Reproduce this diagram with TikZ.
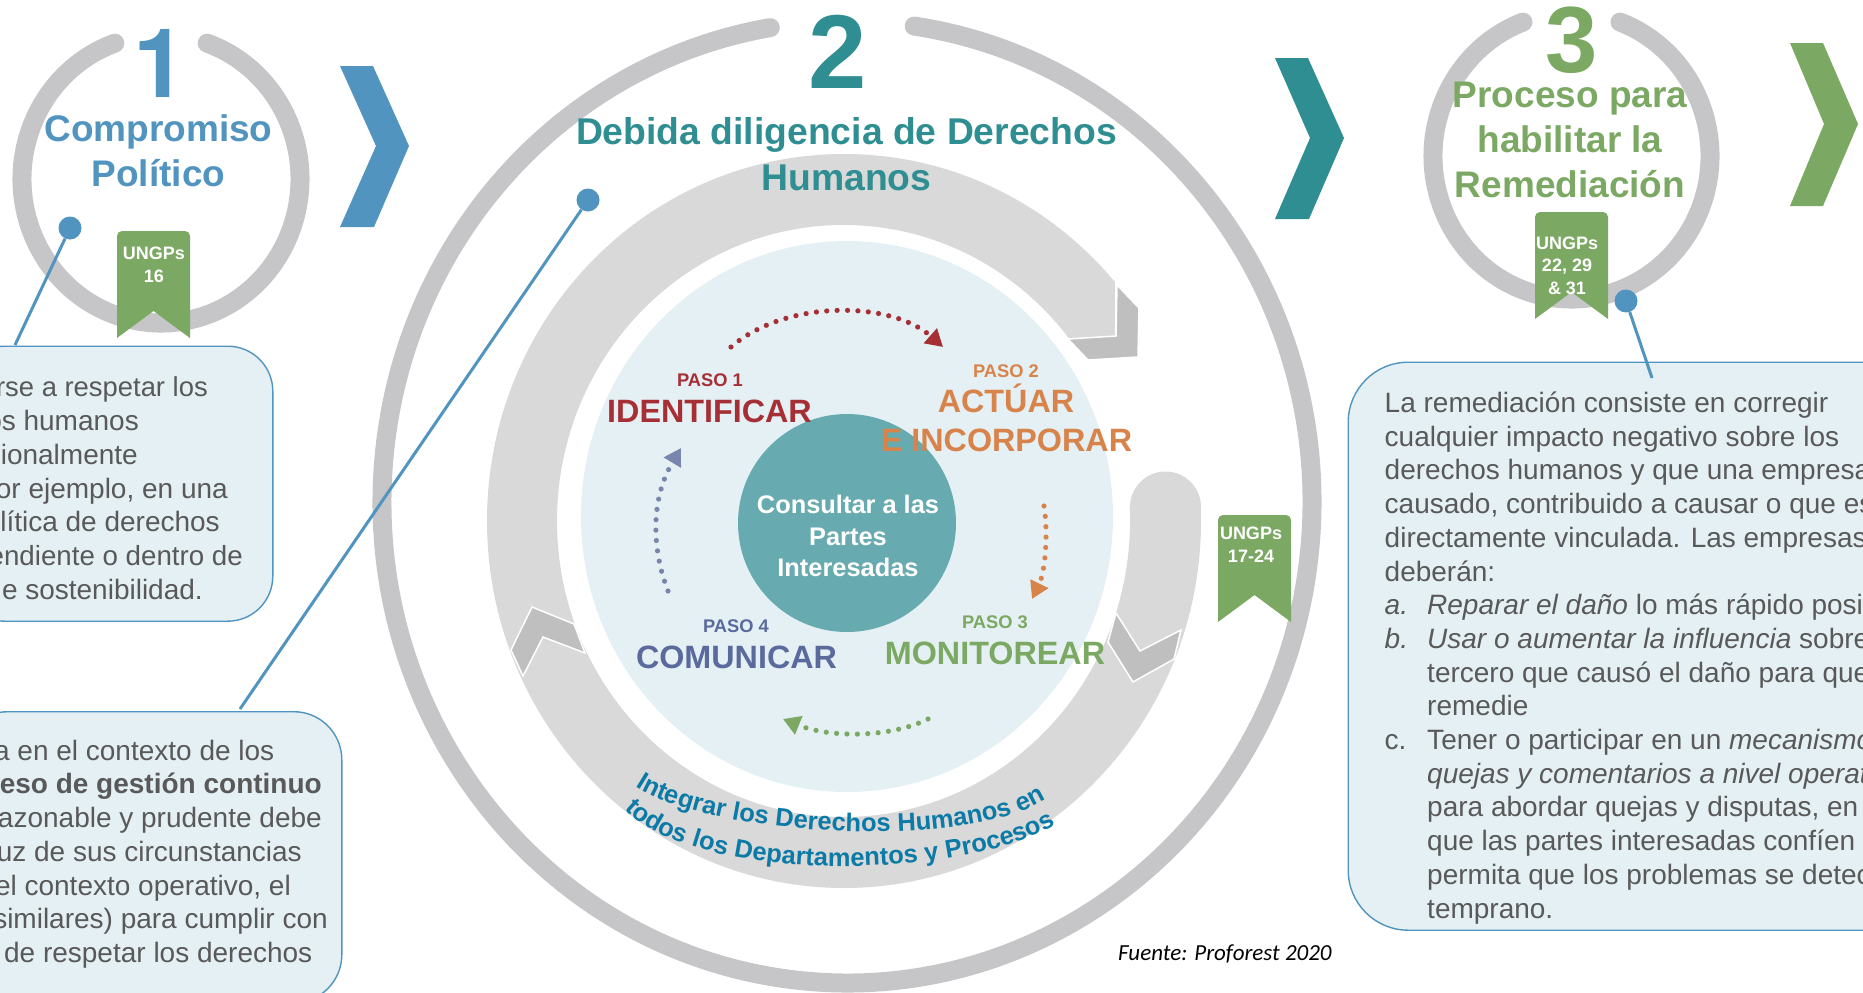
\documentclass[tikz,border=0pt]{standalone}
\usepackage{xcolor}
\usepackage{fontspec}
\setmainfont{Liberation Sans}
\newfontfamily\fuentefont{Carlito}
\newfontfamily\herosfont{TeX Gyre Heros}
\usetikzlibrary{arrows.meta,decorations.text,positioning}
\definecolor{azulP}{HTML}{5094BF}
\definecolor{tealP}{HTML}{2F8E92}
\definecolor{verdeP}{HTML}{7BA862}
\definecolor{anilloG}{HTML}{C6C6C8}
\definecolor{bandaG}{HTML}{D9D9D9}
\definecolor{puntaG}{HTML}{BFBFBF}
\definecolor{paleP}{HTML}{E4F0F3}
\definecolor{centroP}{HTML}{67ABB0}
\definecolor{rojoP}{HTML}{A52F35}
\definecolor{naranjaP}{HTML}{D8834A}
\definecolor{moradoP}{HTML}{5B6A9D}
\definecolor{flechaM}{HTML}{7886AE}
\definecolor{textoG}{HTML}{595959}
\definecolor{curvaP}{HTML}{0C7AA6}
\newcommand{\fs}[2]{\fontsize{#1}{#2}\selectfont}
\newcommand{\cinta}[1]{\fill[verdeP,shift={(#1)}] (0,-107) [rounded corners=5pt] -- (0,0) -- (73,0) [sharp corners] -- (73,-107) -- (36.5,-80) -- cycle;}
\tikzset{
  anillo/.style={anilloG,line width=19pt,line cap=round},
  punta/.style={fill=puntaG,draw=white,line width=1.5pt,line join=miter},
  numero/.style={font=\bfseries\fs{94}{94},inner sep=0pt,anchor=base},
  titulo/.style={font=\bfseries\fs{37}{45},inner sep=0pt,align=center,anchor=base},
  cintatxt/.style={font=\bfseries\fs{18}{22.2},text=white,inner sep=0pt,align=center,anchor=base},
  pasosm/.style={font=\bfseries\fs{18.3}{22},inner sep=0pt,anchor=base},
  pasobig/.style={font=\bfseries\fs{32.3}{39},inner sep=0pt,align=center,anchor=base},
  caja/.style={fill=paleP,draw=azulP,line width=1.4pt,inner sep=0pt},
  linea/.style={font=\fs{28}{33.7},text=textoG,inner sep=0pt,anchor=base east},
  punto/.style={circle,fill=azulP,inner sep=0pt,minimum size=23pt},
  enlace/.style={draw=azulP,line width=3pt},
  dots/.style={line width=5.2pt,line cap=round,dash pattern=on 0pt off 10.4pt,-{Triangle[length=17pt,width=19pt,line cap=butt]}},
}
\begin{document}
\begin{tikzpicture}[x=1pt,y=1pt]
\useasboundingbox (0,0) rectangle (1863,-993);
\clip (0,0) rectangle (1863,-993);
% rings
\draw[anillo] ([shift={(70.6:139 and 144)}]161,-179) arc[start angle=70.6,end angle=-250.6,x radius=139,y radius=144];
\draw[anillo] ([shift={(81.7:465 and 481)}]847,-502) arc[start angle=81.7,end angle=-260.5,x radius=465,y radius=481];
\draw[anillo] ([shift={(69.5:138.5 and 143)}]1571.5,-156) arc[start angle=69.5,end angle=-249.5,x radius=138.5,y radius=143];
% chevrons
\fill[azulP] (340,-66) -- (373,-66) -- (409,-146) -- (374,-227) -- (340,-227) -- (376,-146) -- cycle;
\fill[tealP] (1275,-58) -- (1308,-58) -- (1344,-138) -- (1309,-219) -- (1275,-219) -- (1310,-138) -- cycle;
\fill[verdeP] (1790,-43) -- (1823,-43) -- (1858,-124) -- (1823,-206) -- (1790,-206) -- (1824,-124) -- cycle;
% band
\fill[bandaG,even odd rule] (844,-521) ellipse [x radius=357,y radius=367] (843.5,-521) ellipse [x radius=286.5,y radius=296];
\fill[white] (1068,-339) -- (1115,-336) -- (1115,-270) -- (1180,-270) -- (1215,-400) -- (1215,-507) -- (1130,-507) -- cycle;
\fill[bandaG] (1165.5,-507) circle (35.5);
\filldraw[punta] (1117,-285) -- (1139,-308) -- (1138,-357) -- (1088,-360) -- (1068,-339) -- (1116,-336) -- cycle;
\filldraw[punta] (1116,-613) -- (1140,-651) -- (1181,-630) -- (1174,-659) -- (1133,-682) -- (1108,-642) -- cycle;
\filldraw[punta] (532,-607) -- (574,-624) -- (585,-653) -- (543,-637) -- (523,-676) -- (511,-650) -- cycle;
\fill[paleP] (847,-516.5) ellipse [x radius=266,y radius=275.5];
\node[circle,fill=centroP,inner sep=0pt,minimum size=218pt] (centro) at (847,-523) {};
\node[font=\bfseries\fs{25.4}{31.5},text=white,inner sep=0pt,align=center] (consulta) at (848,-536) {Consultar a las\\Partes\\Interesadas};
% dotted arrows
\coordinate (rojoA) at (731,-347); \coordinate (rojoB) at (943,-347);
\coordinate (naraA) at (1044,-506); \coordinate (naraB) at (1032,-599);
\coordinate (verdA) at (928,-719); \coordinate (verdB) at (783,-719);
\coordinate (azulA) at (668,-591); \coordinate (azulB) at (681,-448);
\draw[dots,rojoP] (rojoA) .. controls (785,-300) and (890,-300) .. (rojoB);
\draw[dots,naranjaP] (naraA) .. controls (1048,-530) and (1046,-570) .. (naraB);
\draw[dots,verdeP] (verdA) .. controls (890,-738) and (830,-738) .. (verdB);
\draw[dots,flechaM] (azulA) .. controls (652,-550) and (650,-500) .. (azulB);
% steps
\node[pasosm,text=rojoP] (paso1) at (710,-386) {PASO 1};
\node[pasobig,text=rojoP] (identificar) at (709.5,-422) {IDENTIFICAR};
\node[pasosm,text=naranjaP] (paso2) at (1006,-377) {PASO 2};
\node[pasobig,text=naranjaP] (actuar) at (1006,-412) {ACTÚAR};
\node[pasobig,text=naranjaP] (incorporar) at (1006.5,-451) {E INCORPORAR};
\node[pasosm,text=verdeP] (paso3) at (995,-628) {PASO 3};
\node[pasobig,text=verdeP] (monitorear) at (995,-664) {MONITOREAR};
\node[pasosm,text=moradoP] (paso4) at (736,-632) {PASO 4};
\node[pasobig,text=moradoP] (comunicar) at (736.5,-668) {COMUNICAR};
% curved text
\path[decorate,decoration={text along path,text align=center,text color=curvaP,text={|\bfseries\fs{25.5}{30}|Integrar los Derechos Humanos en}}] (636,-787) .. controls (710,-835) and (960,-852) .. (1045,-800);
\path[decorate,decoration={text along path,text align=center,text color=curvaP,text={|\bfseries\fs{25.5}{30}|todos los Departamentos y Procesos}}] (624,-809) .. controls (700,-885) and (960,-880) .. (1056,-825);
% headings
\node[numero,font=\herosfont\bfseries\fs{96}{96},text=azulP] (num1) at (160,-97) {1};
\node[titulo,text=azulP] (tit1) at (158.5,-186) {Compromiso\\Político};
\node[numero,font=\bfseries\fs{105}{105},text=tealP] (num2) at (838,-88) {2};
\node[titulo,font=\bfseries\fs{37.3}{46},text=tealP] (tit2) at (846.5,-190) {Debida diligencia de Derechos\\Humanos};
\node[numero,text=verdeP] (num3) at (1572,-72) {3};
\node[titulo,text=verdeP] (tit3) at (1570,-197) {Proceso para\\habilitar la\\Remediación};
% ribbons
\cinta{117,-231}
\cinta{1535,-212}
\cinta{1218,-515}
\node[cintatxt] (cintaA) at (154,-282) {UNGPs\\16};
\node[cintatxt] (cintaC) at (1567,-294) {UNGPs\\22, 29\\\& 31};
\node[cintatxt] (cintaB) at (1251,-562) {UNGPs\\17-24};
% callouts
\node[caja,rounded corners=45pt,minimum width=313pt,minimum height=275pt,anchor=north east] (cajaA) at (273.5,-345.5) {};
\node[caja,rounded corners=48pt,minimum width=382pt,minimum height=291pt,anchor=north east] (cajaB) at (342.5,-711) {};
\node[caja,rounded corners=60pt,minimum width=600pt,minimum height=568pt,anchor=north west] (cajaC) at (1347.5,-361.5) {};
\node[punto] (puntoA) at (70,-228) {};
\node[punto] (puntoB) at (588,-200) {};
\node[punto] (puntoC) at (1626,-301) {};
\coordinate (finA) at (15,-345);
\coordinate (finB) at (240,-709);
\coordinate (finC) at (1652,-378);
\draw[enlace] (puntoA) -- (finA);
\draw[enlace] (puntoB) -- (finB);
\draw[enlace] (puntoC) -- (finC);
% text of the boxes
\foreach \y/\x/\sz/\txt [count=\i] in {396.5/208/27.4/rse a respetar los,430.5/139/28/os humanos,464/138/28/cionalmente,498/228/28/{or ejemplo, en una},531.5/220/28/lítica de derechos,565.5/243/27.7/endiente o dentro de,599/203/28/e sostenibilidad.}
  \node[linea,font=\fs{\sz}{33.7}] (lineaA\i) at (\x,-\y) {\txt};
\foreach \y/\x/\txt [count=\i] in {760.5/274.5/a en el contexto de los,793.5/322/\textbf{eso de gestión continuo},827.5/322/azonable y prudente debe,861.5/302/uz de sus circunstancias,895.5/291/{el contexto operativo, el},928.5/328/similares) para cumplir con,962.5/312.5/de respetar los derechos}
  \node[linea] (lineaB\i) at (\x,-\y) {\txt};
\node[linea,anchor=base west,align=left] (textoC) at (1384.5,-918) {La remediación consiste en corregir\\
cualquier impacto negativo sobre los\\
derechos humanos y que una empresa\\
causado, contribuido a causar o que es\\
directamente vinculada. Las empresas\\
deberán:\\
\makebox[42.5pt][l]{\textit{a.}}\textit{Reparar el daño} lo más rápido posi\\
\makebox[42.5pt][l]{\textit{b.}}\textit{Usar o aumentar la influencia} sobre\\
\hspace*{42.5pt}tercero que causó el daño para que\\
\hspace*{42.5pt}remedie\\
\makebox[42.5pt][l]{c.}Tener o participar en un \textit{mecanismo}\\
\hspace*{42.5pt}\textit{quejas y comentarios a nivel operat}\\
\hspace*{42.5pt}para abordar quejas y disputas, en\\
\hspace*{42.5pt}que las partes interesadas confíen\\
\hspace*{42.5pt}permita que los problemas se detec\\
\hspace*{42.5pt}temprano.};
\node[font=\fuentefont\itshape\fs{23}{26},inner sep=0pt,anchor=base west] (fuente) at (1118,-960.5) {Fuente: Proforest 2020};
\end{tikzpicture}
\end{document}
